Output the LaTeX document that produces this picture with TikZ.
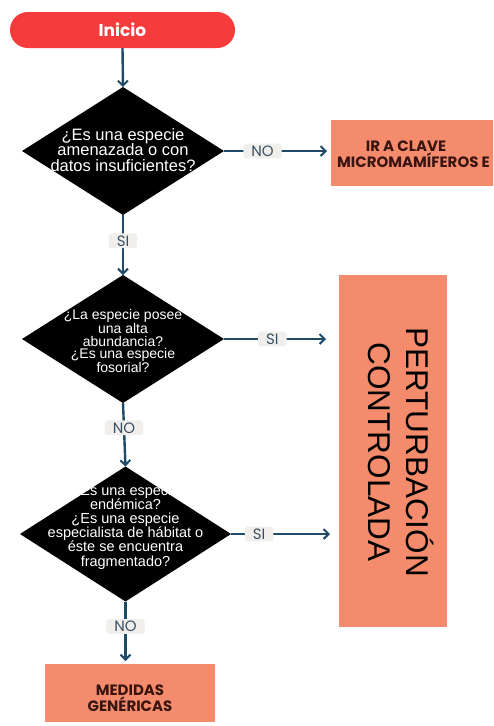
\documentclass[tikz,border=0pt]{standalone}
\usepackage{fontspec}
\setmainfont{Liberation Sans}
\newfontfamily\pop{Poppins}
\usetikzlibrary{shapes.geometric,arrows.meta}
\definecolor{redstart}{HTML}{F53B3C}
\definecolor{salmon}{HTML}{F48B6C}
\definecolor{arrowc}{HTML}{1F4B68}
\definecolor{lblbg}{HTML}{F0EFEB}
\definecolor{lbltxt}{HTML}{3A5163}
\definecolor{boxtxt}{HTML}{3A1510}
\tikzset{
  dia/.style={diamond, fill=black, inner sep=0pt, outer sep=0pt},
  diatext/.style={text=white, align=center, inner sep=0pt},
  arr/.style={draw=arrowc, line width=2.4pt, -{Straight Barb[length=5pt,width=10pt,line width=2pt]}},
  lbl/.style={fill=lblbg, rounded corners=3pt, text=lbltxt, font=\pop\fontsize{15}{16}\selectfont, inner xsep=8pt, inner ysep=2pt},
  salmonbox/.style={fill=salmon, inner sep=0pt, outer sep=0pt},
  boxtext/.style={text=boxtxt, font=\pop\bfseries\fontsize{15}{14}\selectfont, inner sep=0pt},
}
\begin{document}
\begin{tikzpicture}[x=1pt,y=-1pt]
\useasboundingbox (0,0) rectangle (493,726);
\clip (0,0) rectangle (493,726);
\fill[white] (0,0) rectangle (493,726);

% start
\node[fill=redstart, rounded corners=18pt, minimum width=225pt, minimum height=36pt, inner sep=0pt,
      text=white, font=\pop\bfseries\fontsize{17}{18}\selectfont] (start) at (122.5,30) {Inicio};

% diamonds
\node[dia, minimum width=202pt, minimum height=128pt] (d1) at (123,151) {};
\node[diatext, font=\fontsize{16.5}{15.5}\selectfont] (t1) at (123,150) {¿Es una especie\\amenazada o con\\datos insuficientes?};

\node[dia, minimum width=202pt, minimum height=128pt] (d2) at (123,339) {};
\node[diatext, font=\fontsize{14}{12.6}\selectfont] (t2) at (123,341) {¿La especie posee\\una alta\\abundancia?\\¿Es una especie\\fosorial?};

\node[dia, minimum width=211pt, minimum height=135pt] (d3) at (125.5,534) {};
\node[diatext, font=\fontsize{14.5}{14.1}\selectfont] (t3) at (125.5,527) {¿Es una especie\\endémica?\\¿Es una especie\\especialista de hábitat o\\éste se encuentra\\fragmentado?};

% boxes
\node[salmonbox, minimum width=230pt, minimum height=66pt] (b1) at (446,153) {};
\node[boxtext, anchor=center] (b1a) at (406,146) {IR A CLAVE};
\node[boxtext, anchor=west] (b1b) at (337,160) {MICROMAMÍFEROS E};

\node[salmonbox, minimum width=108pt, minimum height=352pt] (pert) at (393,451) {};
\node[rotate=-90, align=center, text=black, font=\fontsize{31.5}{38}\selectfont, inner sep=0pt] (pertt) at (401,452) {PERTURBACIÓN\\CONTROLADA};

\node[salmonbox, minimum width=170pt, minimum height=58pt] (med) at (130,693) {};
\node[boxtext, align=center, font=\pop\bfseries\fontsize{15}{13}\selectfont] (medt) at (130,698) {MEDIDAS\\GENÉRICAS};

% connectors
\draw[arr] (start.south) -- (d1.north);
\draw[arr, shorten >=4pt] (d1.east) -- node[lbl, pos=0.36] {NO} (b1.west |- d1.east);
\draw[arr] (d1.south) -- node[lbl, pos=0.43] {SI} (d2.north);
\draw[arr, shorten >=13pt] (d2.east) -- node[lbl, pos=0.42] {SI} (pert.west |- d2.east);
\draw[arr] (d2.south) -- node[lbl, pos=0.39] {NO} (d3.north);
\draw[arr, shorten >=9pt] (d3.east) -- node[lbl, pos=0.26] {SI} (pert.west |- d3.east);
\draw[arr, shorten >=3pt] (d3.south) -- node[lbl, pos=0.4] {NO} (d3.south |- med.north);
\end{tikzpicture}
\end{document}
